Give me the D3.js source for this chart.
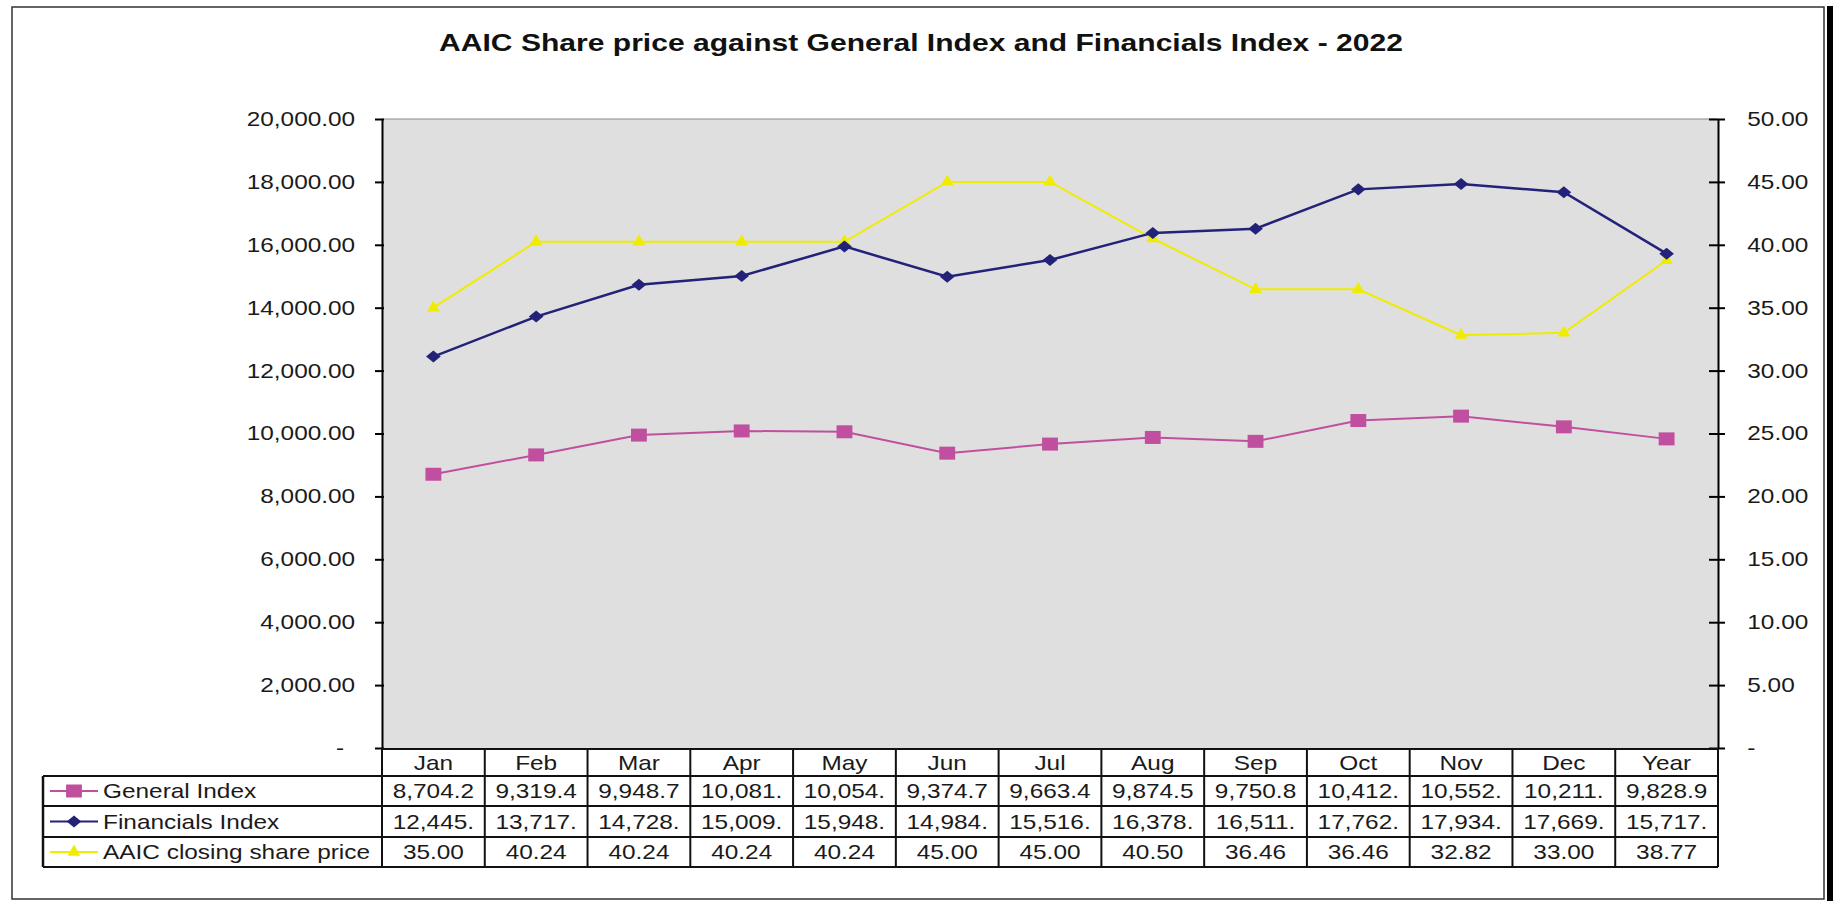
<!DOCTYPE html>
<html>
<head>
<meta charset="utf-8">
<script src="https://cdn.jsdelivr.net/npm/d3@7"></script>
<style>
  body { margin: 0; background: #fff; }
  svg { display: block; font-family: "Liberation Sans", Arial, sans-serif; }
</style>
</head>
<body>
<div id="chart"></div>
<script>
// data
const months = ["Jan", "Feb", "Mar", "Apr", "May", "Jun", "Jul", "Aug", "Sep", "Oct", "Nov", "Dec", "Year"];
const generalIndex = [8704.2, 9319.4, 9948.7, 10081.3, 10054.6, 9374.7, 9663.4, 9874.5, 9750.8, 10412.4, 10552.1, 10211.6, 9828.9];
const financialsIndex = [12445.3, 13717.2, 14728.5, 15009.1, 15948.4, 14984.6, 15516.2, 16378.8, 16511.3, 17762.5, 17934.2, 17669.7, 15717.4];
const aaicPrice = [35.00, 40.24, 40.24, 40.24, 40.24, 45.00, 45.00, 40.50, 36.46, 36.46, 32.82, 33.00, 38.77];
const leftTicks = [0, 2000, 4000, 6000, 8000, 10000, 12000, 14000, 16000, 18000, 20000];
const rightTicks = [0, 5, 10, 15, 20, 25, 30, 35, 40, 45, 50];
const seriesNames = ["General Index", "Financials Index", "AAIC closing share price"];

const width = 1833;
const height = 901;
const k = 1.22; // the picture is stretched sideways, so glyphs get scaled in x
const plot = { left: 382, right: 1718, top: 119, bottom: 748 };
const rowLines = [749, 776, 806, 837, 867];
const tableLeft = 43;

const colGeneral = "#c0509f";
const colFin = "#222279";
const colAaic = "#f0ec00";

const svg = d3.select("#chart")
    .append("svg")
    .attr("width", width)
    .attr("height", height);

// outer frame + dark band on the right
svg.append("rect")
    .attr("x", 12).attr("y", 7)
    .attr("width", 1812).attr("height", 892)
    .attr("fill", "#fff")
    .attr("stroke", "#333")
    .attr("stroke-width", 1.5);
svg.append("rect")
    .attr("x", 1827).attr("y", 6)
    .attr("width", 6).attr("height", 895)
    .attr("fill", "#000");

// title
svg.append("text")
    .attr("transform", `translate(921, 51) scale(${k},1)`)
    .attr("text-anchor", "middle")
    .attr("font-size", 23)
    .attr("font-weight", "bold")
    .attr("fill", "#111")
    .attr("textLength", 790)
    .attr("lengthAdjust", "spacingAndGlyphs")
    .text("AAIC Share price against General Index and Financials Index - 2022");

// plot area
svg.append("rect")
    .attr("x", plot.left).attr("y", plot.top)
    .attr("width", plot.right - plot.left)
    .attr("height", plot.bottom - plot.top)
    .attr("fill", "#dfdfdf");
svg.append("line")
    .attr("x1", plot.left).attr("x2", plot.right)
    .attr("y1", plot.top).attr("y2", plot.top)
    .attr("stroke", "#8a8a8a")
    .attr("stroke-width", 1);

const xScale = d3.scaleBand()
    .domain(months)
    .range([plot.left, plot.right]);

const yLeft = d3.scaleLinear()
    .domain([0, 20000])
    .range([plot.bottom, plot.top]);

const yRight = d3.scaleLinear()
    .domain([0, 50])
    .range([plot.bottom, plot.top]);

const fmt = d3.format(",.2f");

// left axis
const leftG = svg.append("g")
    .attr("transform", `translate(${plot.left},0)`)
    .call(d3.axisLeft(yLeft)
        .tickValues(leftTicks)
        .tickSize(7)
        .tickSizeOuter(0)
        .tickPadding(15)
        .tickFormat(d => d === 0 ? "-" : fmt(d)));

// right axis
const rightG = svg.append("g")
    .attr("transform", `translate(${plot.right},0)`)
    .call(d3.axisRight(yRight)
        .tickValues(rightTicks)
        .tickSize(7)
        .tickSizeOuter(0)
        .tickPadding(17)
        .tickFormat(d => d === 0 ? "-" : fmt(d)));

[leftG, rightG].forEach(g => {
    g.attr("font-size", 20).attr("font-family", null);
    g.select(".domain").attr("stroke", "#000").attr("stroke-width", 2);
    g.selectAll(".tick line").attr("stroke", "#000").attr("stroke-width", 2);
    g.selectAll(".tick text")
        .attr("fill", "#1a1a1a")
        .attr("transform", `scale(${k},1)`);
});
leftG.selectAll(".tick line").attr("x1", 2);
rightG.selectAll(".tick line").attr("x1", -9);
leftG.selectAll(".tick text").filter(d => d === 0).attr("dx", -9);

// series
const series = [
    { name: seriesNames[0], values: generalIndex, y: yLeft, color: colGeneral, width: 2,
      symbol: d3.symbol(d3.symbolSquare, 169), sx: k },
    { name: seriesNames[1], values: financialsIndex, y: yLeft, color: colFin, width: 2.5,
      symbol: d3.symbol(d3.symbolDiamond2, 92), sx: k },
    { name: seriesNames[2], values: aaicPrice, y: yRight, color: colAaic, width: 2,
      symbol: d3.symbol(d3.symbolTriangle, 72), sx: 1 }
];

const cx = m => xScale(m) + xScale.bandwidth() / 2;

// yellow first, then navy, then magenta on top
[series[2], series[1], series[0]].forEach(s => {
    const line = d3.line()
        .x((d, i) => cx(months[i]))
        .y(d => s.y(d));

    svg.append("path")
        .attr("d", line(s.values))
        .attr("fill", "none")
        .attr("stroke", s.color)
        .attr("stroke-width", s.width);

    svg.append("g")
        .selectAll("path")
        .data(s.values)
        .join("path")
        .attr("d", s.symbol())
        .attr("transform", (d, i) => `translate(${cx(months[i])},${s.y(d)}) scale(${s.sx},1)`)
        .attr("fill", s.color);
});

// data table
const table = svg.append("g").attr("class", "data-table");

// horizontal rules
rowLines.forEach((y, i) => {
    table.append("line")
        .attr("x1", i === 0 ? plot.left : tableLeft)
        .attr("x2", plot.right)
        .attr("y1", y).attr("y2", y)
        .attr("stroke", "#111")
        .attr("stroke-width", 2);
});

// vertical rules
const colEdges = months.map(m => xScale(m)).concat([plot.right]);
colEdges.forEach(x => {
    table.append("line")
        .attr("x1", x).attr("x2", x)
        .attr("y1", rowLines[0]).attr("y2", rowLines[4])
        .attr("stroke", "#111")
        .attr("stroke-width", 2);
});
table.append("line")
    .attr("x1", tableLeft).attr("x2", tableLeft)
    .attr("y1", rowLines[1]).attr("y2", rowLines[4])
    .attr("stroke", "#111")
    .attr("stroke-width", 2.5);

const cellText = (x, y, str, anchor) => table.append("text")
    .attr("transform", `translate(${x},${y}) scale(${k},1)`)
    .attr("text-anchor", anchor)
    .attr("font-size", 20)
    .attr("fill", "#1a1a1a")
    .text(str);

// header
months.forEach(m => {
    cellText(cx(m), (rowLines[0] + rowLines[1]) / 2 + 7, m, "middle");
});

// rows
series.forEach((s, r) => {
    const mid = (rowLines[r + 1] + rowLines[r + 2]) / 2;

    table.append("line")
        .attr("x1", 50).attr("x2", 98)
        .attr("y1", mid).attr("y2", mid)
        .attr("stroke", s.color)
        .attr("stroke-width", 2);
    table.append("path")
        .attr("d", s.symbol())
        .attr("transform", `translate(74,${mid}) scale(${s.sx},1)`)
        .attr("fill", s.color);

    cellText(103, mid + 7, s.name, "start");

    s.values.forEach((v, i) => {
        cellText(cx(months[i]), mid + 7, fmt(v).slice(0, 7), "middle");
    });
});
</script>
</body>
</html>
